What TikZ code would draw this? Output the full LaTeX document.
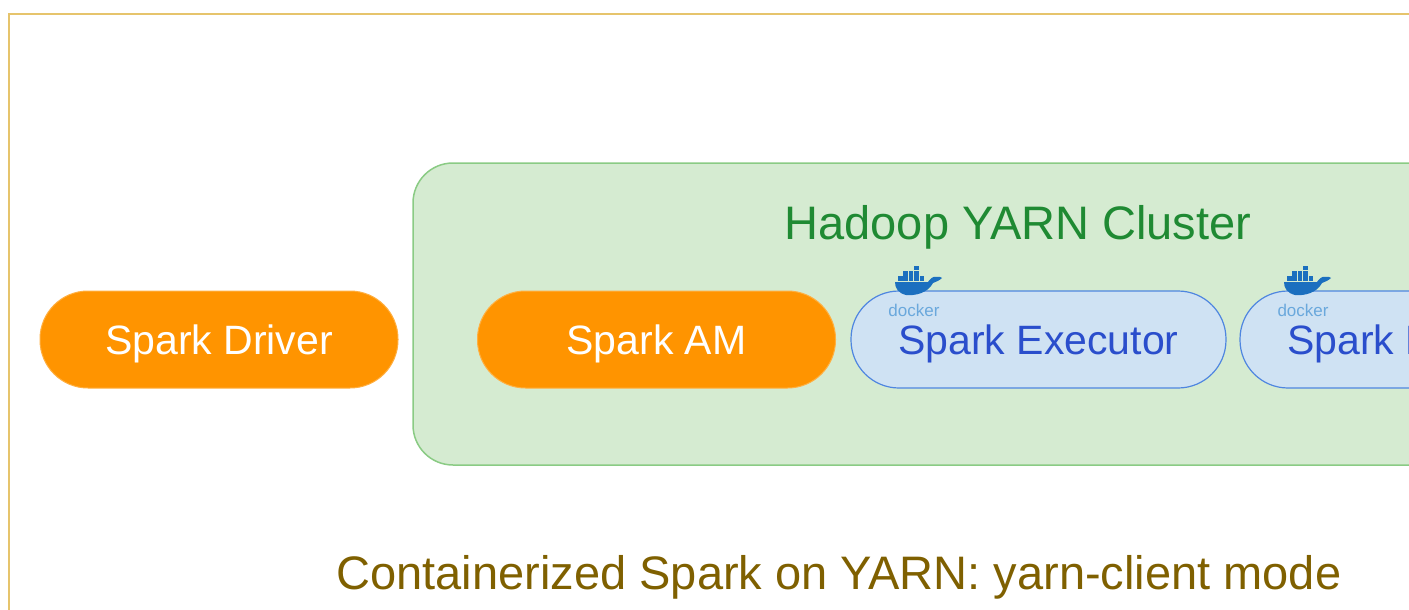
\documentclass[tikz,border=0pt]{standalone}
\usepackage{fontspec}
\setmainfont{Liberation Sans}
\usepackage{tikz}
\definecolor{framegold}{HTML}{E6C46C}
\definecolor{clusterfill}{HTML}{D5EBD1}
\definecolor{clusterline}{HTML}{8ACB84}
\definecolor{clustertext}{HTML}{1F8A33}
\definecolor{sparkorange}{HTML}{FF9400}
\definecolor{execfill}{HTML}{CFE2F3}
\definecolor{execline}{HTML}{4F86E0}
\definecolor{exectext}{HTML}{2A4ECC}
\definecolor{whaleblue}{HTML}{1B6FBF}
\definecolor{dockertext}{HTML}{6AA8DC}
\definecolor{captiontext}{HTML}{7F6000}

\begin{document}
\begin{tikzpicture}[x=1pt,y=-1pt,
	pill/.style={rectangle,rounded corners=48pt,minimum height=97pt,inner sep=0pt,text depth=0pt,font=\fontsize{41}{49}\selectfont},
	sparkjvm/.style={pill,minimum width=358pt,fill=sparkorange,draw=sparkorange!75!white,line width=1pt,text=white},
	executor/.style={pill,minimum width=375pt,fill=execfill,draw=execline,line width=1.2pt,text=exectext},
	bigtext/.style={font=\fontsize{47}{56}\selectfont}]
		\path[use as bounding box,clip] (0,0) rectangle (1409,610);
		\def\frame{(8.5,14.5) rectangle (1480,680)}
		\def\cluster{(413,163) rectangle (1621,465)}
		\def\whale{(0,17) -- (33,17) .. controls (35,14) and (38,11) .. (41,12) .. controls (44,11) and (46,12) .. (47,13) .. controls (44,16) and (40,17) .. (38,18) .. controls (33,28) and (20,31) .. (11,30) .. controls (3,28) and (0,23) .. (0,17) -- cycle}
		\draw[framegold,line width=2pt] \frame;
		\draw[fill=clusterfill,draw=clusterline,line width=1.5pt,rounded corners=40pt] \cluster;
		\node[bigtext,text=clustertext] (yarn) at (1018,227) {Hadoop YARN Cluster};
		\node[sparkjvm] (driver) at (219,339.5) {Spark Driver};
		\node[sparkjvm] (am) at (656.5,339.5) {Spark AM};
		\node[executor] (exec1) at (1038.5,339.5) {Spark Executor};
		\node[executor] (exec2) at (1427.5,339.5) {Spark Executor};
		% docker logos
		\foreach \dx in {895,1284}{
			\begin{scope}[shift={(\dx,265)}]
				\fill[whaleblue] \whale;
				\foreach \i in {0,...,4} \fill[whaleblue] (3+\i*5.4,11.4) rectangle ++(4.6,4.8);
				\foreach \i in {1,...,3} \fill[whaleblue] (3+\i*5.4,6) rectangle ++(4.6,4.8);
				\fill[whaleblue] (3+3*5.4,0.6) rectangle ++(4.6,4.8);
			\end{scope}
			\node[text=dockertext,font=\fontsize{17}{17}\selectfont] (dock\dx) at (\dx+19,310) {docker};
		}
		\node[bigtext,text=captiontext] (caption) at (839,577) {Containerized Spark on YARN: yarn-client mode};
	\end{tikzpicture}
\end{document}
